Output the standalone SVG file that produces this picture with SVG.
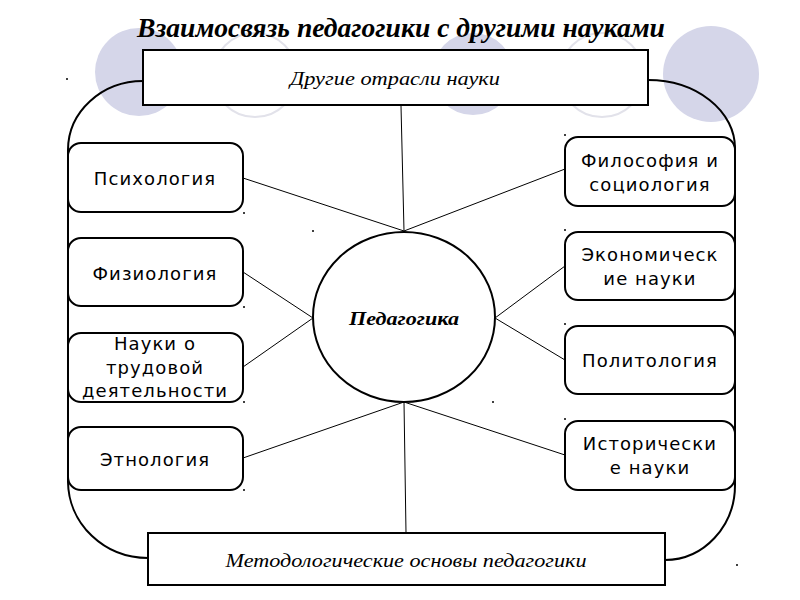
<svg xmlns="http://www.w3.org/2000/svg" width="800" height="600" viewBox="0 0 800 600">
<style>
.bg{fill:#d5d6e9;stroke:none}
.ring{fill:none;stroke:#e2e2ea;stroke-width:2}
.box{fill:#fff;stroke:#000;stroke-width:2}
.rect{fill:#fff;stroke:#000;stroke-width:2}
.outline{fill:none;stroke:#000;stroke-width:2}
.conn line{stroke:#000;stroke-width:1}
.lbl{font-family:"DejaVu Sans",sans-serif;font-size:18px;letter-spacing:1.1px;text-anchor:middle;fill:#000}
.it{font-family:"Liberation Serif",serif;font-style:italic;font-size:19px;text-anchor:middle;fill:#000}
.dot{fill:#000}
</style>
<rect width="800" height="600" fill="#fff"/>
<g id="decor">
<circle class="bg" cx="139" cy="72" r="44"/>
<circle class="ring" cx="255" cy="75" r="42"/>
<circle class="bg" cx="473" cy="74" r="41"/>
<circle class="ring" cx="602" cy="75" r="42"/>
<circle class="bg" cx="711" cy="74" r="48"/>
</g>
<text x="401" y="37" font-family="Liberation Serif, serif" font-weight="bold" font-style="italic" font-size="28" text-anchor="middle" textLength="528" lengthAdjust="spacingAndGlyphs">Взаимосвязь педагогики с другими науками</text>
<g id="frame">
<path class="outline" d="M143,81 A75,69 0 0 0 68,150 L68,482 A80,77 0 0 0 148,558"/>
<path class="outline" d="M648,80 A87,68 0 0 1 735,148 L735,485 A70,75 0 0 1 665,560"/>
</g>
<g class="conn" id="connectors">
<line x1="401" y1="106" x2="404" y2="231"/>
<line x1="243" y1="178" x2="404" y2="231"/>
<line x1="565" y1="169" x2="404" y2="231"/>
<line x1="243" y1="272" x2="313" y2="318"/>
<line x1="243" y1="367" x2="313" y2="318"/>
<line x1="565" y1="266" x2="495" y2="318"/>
<line x1="565" y1="360" x2="495" y2="318"/>
<line x1="243" y1="458" x2="404" y2="402"/>
<line x1="565" y1="455" x2="404" y2="402"/>
<line x1="404" y1="402" x2="406" y2="533"/>
</g>
<g id="top">
<rect class="rect" x="143" y="50" width="505" height="55"/>
<text class="it" x="395" y="85" textLength="210" lengthAdjust="spacingAndGlyphs">Другие отрасли науки</text>
</g>
<g id="bottom">
<rect class="rect" x="148" y="533" width="517" height="52"/>
<text class="it" x="406" y="567" textLength="361" lengthAdjust="spacingAndGlyphs">Методологические основы педагогики</text>
</g>
<g id="center">
<ellipse cx="404" cy="317" rx="91" ry="85" fill="#fff" stroke="#000" stroke-width="2"/>
<text x="404" y="325" font-family="Liberation Serif, serif" font-weight="bold" font-style="italic" font-size="18" text-anchor="middle" textLength="110" lengthAdjust="spacingAndGlyphs">Педагогика</text>
</g>
<g id="psych">
<rect class="box" x="68" y="143" width="175" height="69" rx="13"/>
<text class="lbl" x="155" y="185">Психология</text>
</g>
<g id="physio">
<rect class="box" x="68" y="238" width="175" height="68" rx="13"/>
<text class="lbl" x="155" y="280">Физиология</text>
</g>
<g id="labor">
<rect class="box" x="68" y="333" width="175" height="69" rx="13"/>
<text class="lbl" x="155" y="350">Науки о</text>
<text class="lbl" x="155" y="374">трудовой</text>
<text class="lbl" x="155" y="397">деятельности</text>
</g>
<g id="ethno">
<rect class="box" x="68" y="427" width="175" height="63" rx="13"/>
<text class="lbl" x="155" y="466">Этнология</text>
</g>
<g id="philo">
<rect class="box" x="565" y="137" width="170" height="69" rx="13"/>
<text class="lbl" x="650" y="167">Философия и</text>
<text class="lbl" x="650" y="191">социология</text>
</g>
<g id="econ">
<rect class="box" x="565" y="232" width="170" height="68" rx="13"/>
<text class="lbl" x="650" y="261">Экономическ</text>
<text class="lbl" x="650" y="285">ие науки</text>
</g>
<g id="polit">
<rect class="box" x="565" y="326" width="170" height="68" rx="13"/>
<text class="lbl" x="650" y="367">Политология</text>
</g>
<g id="hist">
<rect class="box" x="565" y="421" width="170" height="69" rx="13"/>
<text class="lbl" x="650" y="450">Исторически</text>
<text class="lbl" x="650" y="474">е науки</text>
</g>
<g id="dots">
<circle class="dot" cx="67" cy="79" r="1"/>
<circle class="dot" cx="313" cy="231" r="1"/>
<circle class="dot" cx="493" cy="402" r="1"/>
<circle class="dot" cx="737" cy="565" r="1"/>
<circle class="dot" cx="244" cy="213" r="1"/>
<circle class="dot" cx="244" cy="307" r="1"/>
<circle class="dot" cx="244" cy="402" r="1"/>
<circle class="dot" cx="244" cy="490" r="1"/>
<circle class="dot" cx="565" cy="135" r="1"/>
<circle class="dot" cx="565" cy="230" r="1"/>
<circle class="dot" cx="565" cy="324" r="1"/>
<circle class="dot" cx="565" cy="419" r="1"/>
</g>
</svg>
